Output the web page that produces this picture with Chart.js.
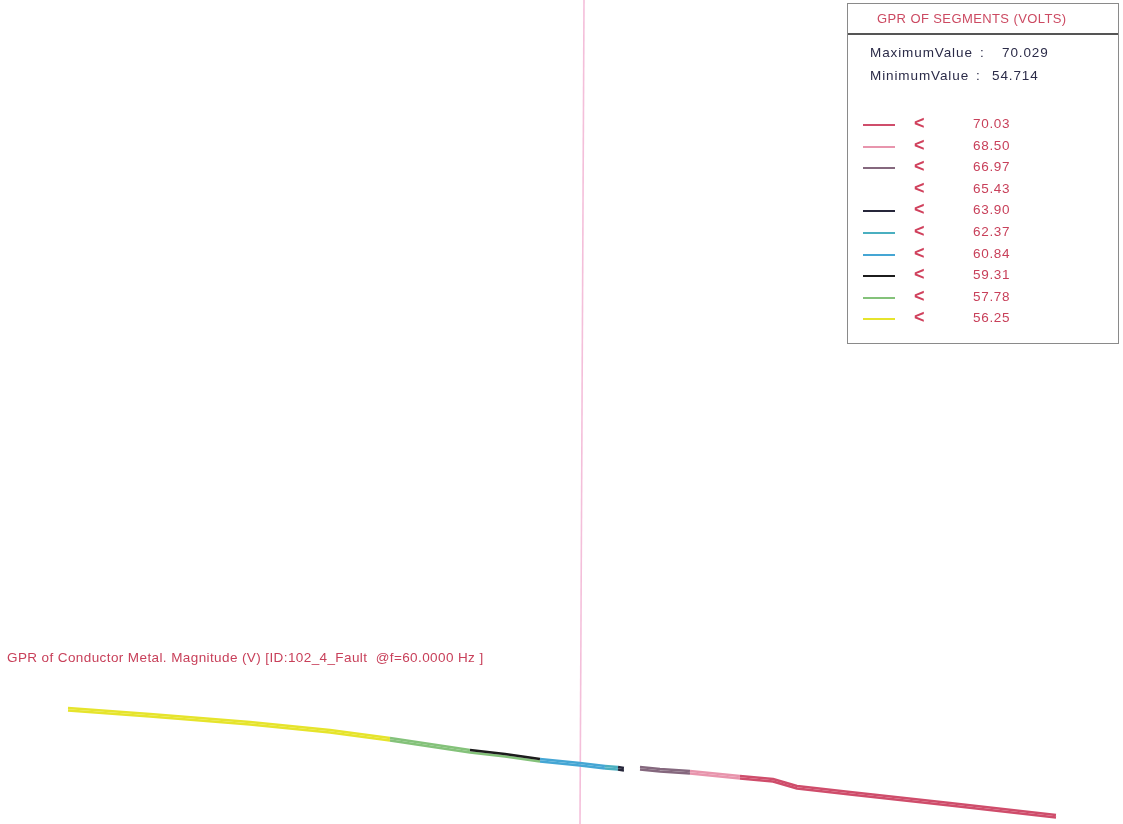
<!DOCTYPE html>
<html>
<head>
<meta charset="utf-8">
<title>GPR of Conductor Metal</title>
<script src="https://cdn.jsdelivr.net/npm/chart.js@4/dist/chart.umd.min.js"></script>
<style>
  html, body { margin: 0; padding: 0; background: #fff; }
  #wrap { position: relative; width: 1123px; height: 824px; overflow: hidden; font-family: "Liberation Sans", Arial, sans-serif; }
  #plot { position: absolute; left: 0; top: 0; }
  #legend { position: absolute; left: 847px; top: 3px; width: 272px; height: 341px; border: 1px solid #8a8a8a; box-sizing: border-box; background: transparent; }
  #legend .head { height: 29px; border-bottom: 2px solid #555; color: #cc4a62; font-size: 13px; letter-spacing: 0.4px; line-height: 29px; padding-left: 29px; }
  #legend .stat { position: absolute; font-size: 13.5px; color: #2b2b48; white-space: pre; letter-spacing: 0.9px; }
  #legend .row { position: absolute; left: 0; height: 16px; width: 270px; }
  #legend .swatch { position: absolute; left: 15px; top: 7px; width: 32px; height: 2px; }
  #legend .lt { position: absolute; left: 66px; top: -4px; color: #d0405c; font-size: 18px; font-weight: bold; }
  #legend .val { position: absolute; left: 125px; top: -1px; color: #c8405a; font-size: 13.5px; letter-spacing: 0.7px; }
  #caption { position: absolute; left: 7px; top: 650px; font-size: 13.5px; color: #c8405a; white-space: pre; letter-spacing: 0.4px; }
</style>
</head>
<body>
<div id="wrap">
  <canvas id="plot" width="1123" height="824"></canvas>
  <div id="legend"></div>
  <div id="caption"></div>
</div>
<script>
// Plan coordinates of the conductor route (metres) and GPR per node (volts)
const MAX_VALUE = 70.029;
const MIN_VALUE = 54.714;

const EAST = [0, 8.2, 18.2, 26.2, 32.2, 36.2, 40.2, 43.7, 47.2, 51.2, 53.7, 55.0, 55.6, 57.2, 59.2, 62.2, 67.2, 70.5, 71.7, 72.9, 78.2, 88.2, 98.8];
const NORTH_A = [0, -0.6, -1.4, -2.2, -3.0, -3.6, -4.2, -4.6, -5.1, -5.5, -5.8, -5.9, -6.0, -5.9, -6.1, -6.3, -6.8, -7.1, -7.45, -7.8, -8.4, -9.5, -10.7];
const NORTH_B = [-0.25, -0.85, -1.65, -2.45, -3.25, -3.85, -4.45, -4.85, -5.35, -5.75, -6.05, -6.15, -6.25, -6.15, -6.35, -6.55, -7.05, -7.35, -7.7, -8.05, -8.65, -9.75, -10.95];
const GPR_A = [MIN_VALUE, 55.10, 55.55, 55.95, 56.30, 57.00, 57.80, 58.40, 59.35, 60.20, 60.90, 62.40, 63.95, 65.50, 66.20, 67.00, 68.55, 68.85, 69.00, 69.20, 69.50, 69.80, MAX_VALUE];
const GPR_B = [MIN_VALUE, 55.05, 55.45, 55.90, 56.28, 56.90, 57.30, 57.70, 59.40, 60.10, 60.95, 62.45, 63.95, 65.60, 66.40, 67.10, 68.60, 68.90, 69.05, 69.25, 69.55, 69.85, MAX_VALUE];

// Colour bins: each entry covers values below its threshold
const THRESHOLDS = [70.03, 68.50, 66.97, 65.43, 63.90, 62.37, 60.84, 59.31, 57.78, 56.25];
const BIN_COLORS = ['#cf4d6b', '#e895ad', '#85687e', '#ffffff', '#26263a', '#4aafc0', '#45a6d4', '#1c1c1c', '#84c27a', '#e6e42c'];

const TITLE = 'GPR of Conductor Metal. Magnitude (V) [ID:102_4_Fault  @f=60.0000 Hz ]';

function binColor(v) {
  for (let i = THRESHOLDS.length - 1; i >= 0; i--) {
    if (v < THRESHOLDS[i]) return BIN_COLORS[i];
  }
  return BIN_COLORS[0];
}

function conductor(north, gpr) {
  return {
    data: EAST.map((x, i) => ({ x: x, y: north[i] })),
    borderWidth: 2.6,
    borderJoinStyle: 'round',
    pointRadius: 0,
    tension: 0,
    fill: false,
    segment: { borderColor: ctx => binColor(gpr[ctx.p0DataIndex]) }
  };
}

// Faint page fold line behind the conductors
const foldLine = {
  id: 'foldLine',
  beforeDatasetsDraw(chart) {
    const c = chart.ctx;
    c.save();
    c.strokeStyle = 'rgba(240,170,205,0.75)';
    c.lineWidth = 1.6;
    c.beginPath();
    c.moveTo(584, 0);
    c.lineTo(580, chart.height);
    c.stroke();
    c.restore();
  }
};

new Chart(document.getElementById('plot'), {
  type: 'line',
  data: { datasets: [conductor(NORTH_A, GPR_A), conductor(NORTH_B, GPR_B)] },
  options: {
    responsive: false,
    animation: false,
    layout: { padding: 0 },
    plugins: { legend: { display: false }, tooltip: { enabled: false } },
    scales: {
      x: { type: 'linear', display: false, min: -6.8, max: 105.5 },
      y: { type: 'linear', display: false, min: -11.6, max: 70.8 }
    }
  },
  plugins: [foldLine]
});

// Legend panel
const lg = document.getElementById('legend');
lg.innerHTML = '<div class="head">GPR OF SEGMENTS (VOLTS)</div>' +
  '<div class="stat" style="left:22px;top:41px">MaximumValue</div>' +
  '<div class="stat" style="left:132px;top:41px">:</div>' +
  '<div class="stat" style="left:154px;top:41px">' + MAX_VALUE.toFixed(3) + '</div>' +
  '<div class="stat" style="left:22px;top:64px">MinimumValue</div>' +
  '<div class="stat" style="left:128px;top:64px">:</div>' +
  '<div class="stat" style="left:144px;top:64px">' + MIN_VALUE.toFixed(3) + '</div>';
THRESHOLDS.forEach((t, i) => {
  const row = document.createElement('div');
  row.className = 'row';
  row.style.top = (113 + i * 21.6) + 'px';
  const sw = BIN_COLORS[i] === '#ffffff' ? '' : '<div class="swatch" style="background:' + BIN_COLORS[i] + '"></div>';
  row.innerHTML = sw + '<div class="lt">&lt;</div><div class="val">' + t.toFixed(2) + '</div>';
  lg.appendChild(row);
});

document.getElementById('caption').textContent = TITLE;
</script>
</body>
</html>
